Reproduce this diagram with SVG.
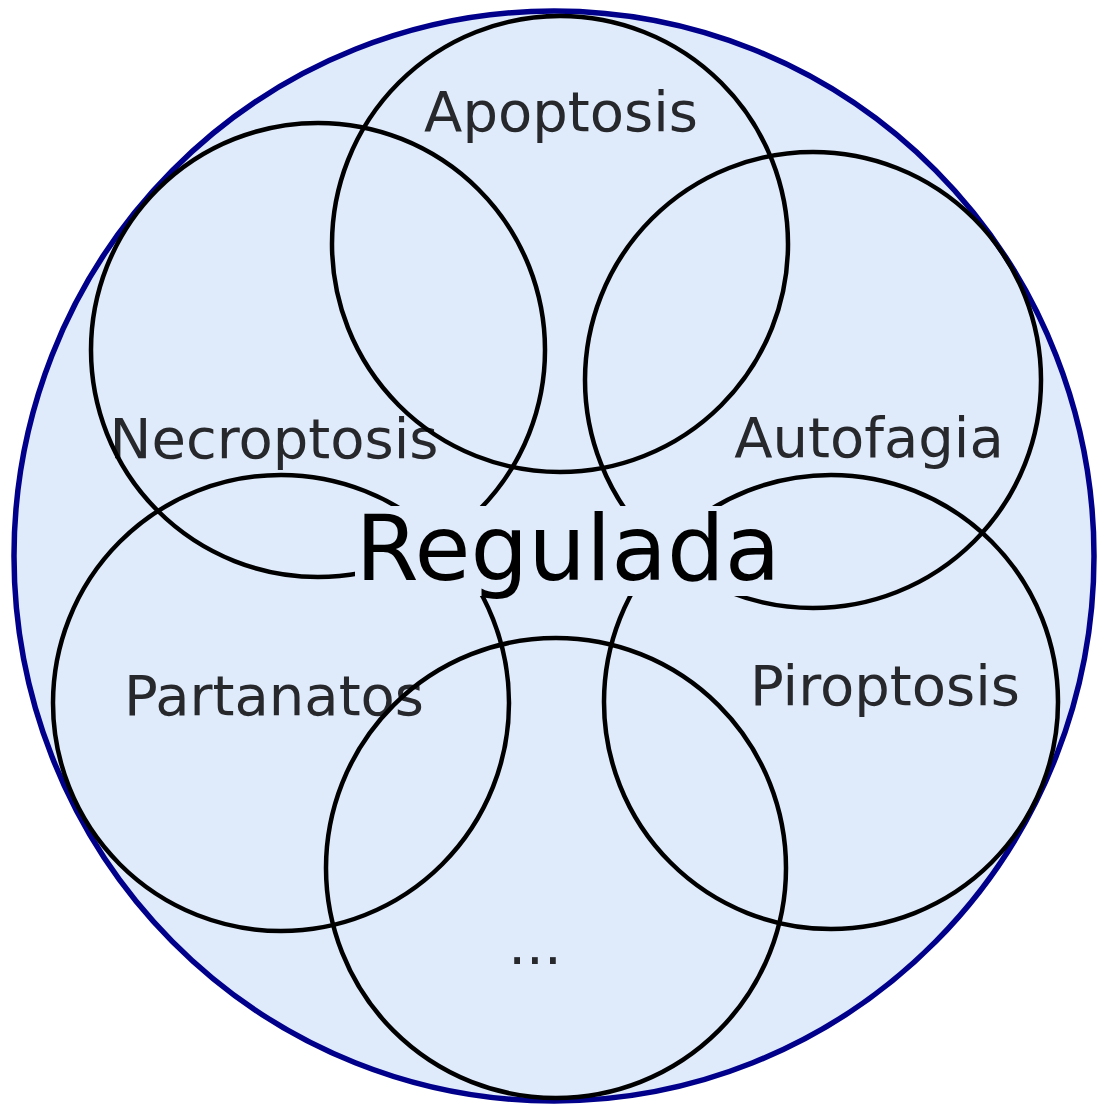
<svg xmlns="http://www.w3.org/2000/svg" width="1105" height="1108" viewBox="0 0 1105 1108">
<style>
.ring{fill:none;stroke:#000;stroke-width:4.5}
.lbl{font-family:"DejaVu Sans",sans-serif;font-size:56px;fill:#26282c;text-anchor:middle}
.main{font-family:"DejaVu Sans",sans-serif;font-size:91px;fill:#000;text-anchor:middle}
</style>
<rect width="1105" height="1108" fill="#fff"/>
<g id="outer">
<ellipse cx="554" cy="556" rx="540" ry="545" fill="#dfeafa" stroke="#00008b" stroke-width="5.5"/>
</g>
<g id="labels">
<text class="lbl" x="561" y="131">Apoptosis</text>
<text class="lbl" x="274" y="458">Necroptosis</text>
<text class="lbl" x="869" y="457">Autofagia</text>
<text class="lbl" x="274" y="715">Partanatos</text>
<text class="lbl" x="885" y="705">Piroptosis</text>
<text class="lbl" x="535" y="964">...</text>
</g>
<g id="node-apoptosis"><circle class="ring" cx="560" cy="244" r="228"/></g>
<g id="node-necroptosis"><circle class="ring" cx="318" cy="350" r="227"/></g>
<g id="node-autofagia"><circle class="ring" cx="813" cy="380" r="228"/></g>
<g id="node-partanatos"><circle class="ring" cx="281" cy="703" r="228"/></g>
<g id="node-piroptosis"><circle class="ring" cx="831" cy="702" r="227"/></g>
<g id="node-more"><circle class="ring" cx="556" cy="868" r="230"/></g>
<g id="node-regulada">
<rect x="355" y="506" width="430" height="90" fill="#dfeafa"/>
<text class="main" x="568" y="580">Regulada</text>
</g>
<g id="connectors"></g>
</svg>
